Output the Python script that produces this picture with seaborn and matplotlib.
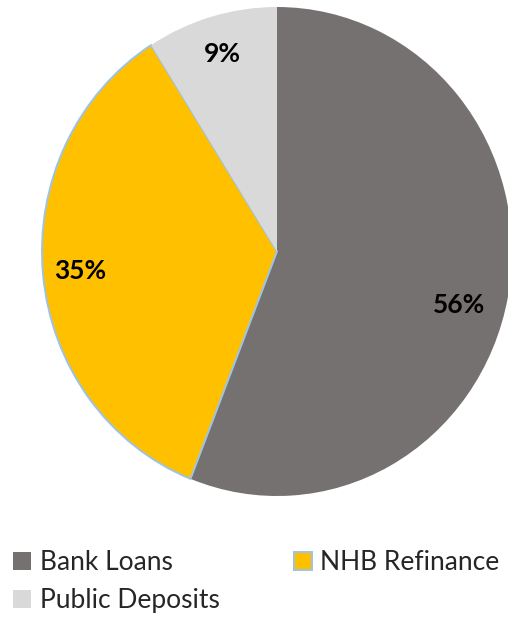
import matplotlib
matplotlib.use("Agg")
import matplotlib.pyplot as plt
import seaborn as sns

categories = ["Bank Loans", "NHB Refinance", "Public Deposits"]
shares = [56, 35, 9]
colors = ["#767171", "#FFC000", "#D9D9D9"]
edge_colors = ["none", "#9DC3E6", "none"]
legend_order = ["Bank Loans", "Public Deposits", "NHB Refinance"]

sns.set_theme(style="white")
plt.rcParams["font.family"] = ["Lato", "DejaVu Sans"]

palette = sns.color_palette(colors)

fig = plt.figure(figsize=(5.08, 6.28), dpi=100)
ax = fig.add_axes([42 / 508, (628 - 496) / 628, 470 / 508, 489 / 628])

wedges, texts, autotexts = ax.pie(
    shares,
    colors=palette,
    startangle=90,
    counterclock=False,
    autopct="%d%%",
    pctdistance=0.84,
    textprops=dict(fontsize=19, fontweight="bold", color="black"),
    wedgeprops=dict(linewidth=1.4),
)
for w, ec in zip(wedges, edge_colors):
    w.set_edgecolor(ec)
    w.set_clip_on(False)

# best-fit style placement of the large slice's label
autotexts[0].set_position((0.774, -0.219))

ax.set_aspect("auto")
ax.set_xlim(-1, 1)
ax.set_ylim(-1, 1)
ax.axis("off")

handles = {c: w for c, w in zip(categories, wedges)}
fig.legend(
    [handles[c] for c in legend_order],
    legend_order,
    loc="upper left",
    bbox_to_anchor=(0.0, 1 - 537 / 628),
    ncol=2,
    frameon=False,
    fontsize=19,
    handlelength=0.68,
    handleheight=0.68,
    handletextpad=0.33,
    columnspacing=2.8,
    labelspacing=0.5,
    borderaxespad=0.0,
    borderpad=0.5,
)

fig.savefig("out.png", dpi=100)
